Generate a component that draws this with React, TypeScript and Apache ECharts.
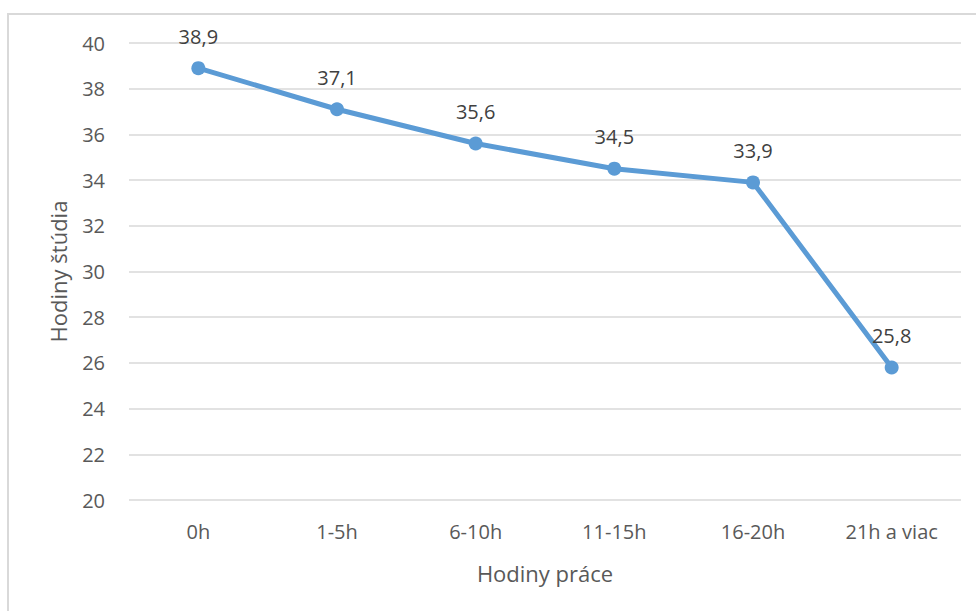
import React, { useEffect, useRef } from "react";
import * as echarts from "echarts";

const categories = ["0h", "1-5h", "6-10h", "11-15h", "16-20h", "21h a viac"];
const values = [38.9, 37.1, 35.6, 34.5, 33.9, 25.8];
const yMin = 20;
const yMax = 40;
const yInterval = 2;
const xAxisTitle = "Hodiny práce";
const yAxisTitle = "Hodiny štúdia";

const FONT = "'Open Sans', 'Noto Sans', sans-serif";
const TEXT = "#595959";

export default function App() {
  const ref = useRef<HTMLDivElement>(null);
  useEffect(() => {
    if (!ref.current) return;
    const chart = echarts.init(ref.current, undefined, { renderer: "svg" });
    chart.setOption({
      animation: false,
      backgroundColor: "#ffffff",
      textStyle: { fontFamily: FONT },
      graphic: [
        {
          type: "rect",
          shape: { x: 8, y: 14, width: 1000, height: 700 },
          style: { fill: "none", stroke: "#d9d9d9", lineWidth: 2 },
          silent: true,
          z: -1,
        },
      ],
      grid: { left: 129, right: 15, top: 43, bottom: 111, containLabel: false },
      xAxis: {
        type: "category",
        data: categories,
        boundaryGap: true,
        axisLine: { show: false },
        axisTick: { show: false },
        axisLabel: { color: TEXT, fontSize: 20, margin: 21, fontFamily: FONT },
        name: xAxisTitle,
        nameLocation: "middle",
        nameGap: 62,
        nameTextStyle: { color: TEXT, fontSize: 22, fontFamily: FONT },
      },
      yAxis: {
        type: "value",
        min: yMin,
        max: yMax,
        interval: yInterval,
        axisLine: { show: false },
        axisTick: { show: false },
        splitLine: { lineStyle: { color: "#d9d9d9", width: 1.5 } },
        axisLabel: { color: TEXT, fontSize: 20, margin: 24, fontFamily: FONT },
        name: yAxisTitle,
        nameLocation: "middle",
        nameGap: 60,
        nameRotate: 90,
        nameTextStyle: { color: TEXT, fontSize: 22, fontFamily: FONT },
      },
      series: [
        {
          type: "line",
          data: values,
          lineStyle: { color: "#5b9bd5", width: 5 },
          itemStyle: { color: "#5b9bd5" },
          symbol: "circle",
          symbolSize: 14,
          label: {
            show: true,
            position: "top",
            distance: 15,
            color: "#404040",
            fontSize: 20,
            fontFamily: FONT,
            formatter: (p: any) => String(p.value).replace(".", ","),
          },
        },
      ],
    });
    return () => chart.dispose();
  }, []);
  return (
    <div
      ref={ref}
      style={{ position: "fixed", left: 0, top: 0, width: 976, height: 611 }}
    />
  );
}
